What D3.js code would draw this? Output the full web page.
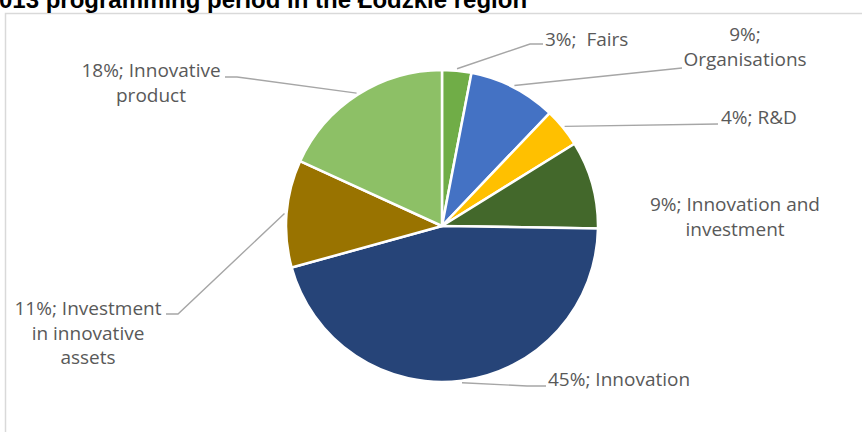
<!DOCTYPE html>
<html>
<head>
<meta charset="utf-8">
<script src="https://cdn.jsdelivr.net/npm/d3@7/dist/d3.min.js"></script>
<style>
  html, body { margin: 0; padding: 0; background: #fff; }
  svg { display: block; }
  .lbl { font-family: "Open Sans", "DejaVu Sans", sans-serif; font-size: 19px; fill: #595959; white-space: pre; }
  .title { font-family: "Liberation Sans", Arial, sans-serif; font-weight: bold; font-size: 24px; fill: #000; }
</style>
</head>
<body>
<svg id="chart" width="862" height="432"></svg>
<script>
// Share of projects by support type (percent), clockwise from 12 o'clock
const categories = ["Fairs", "Organisations", "R&D", "Innovation and investment", "Innovation", "Investment in innovative assets", "Innovative product"];
const shares = [3, 9, 4, 9, 45, 11, 18];
const colors = ["#70AD47", "#4472C4", "#FFC000", "#43682B", "#264478", "#997300", "#8DC066"];
const titleText = "013 programming period in the Łódzkie region";

// Label placement: anchor, first baseline, words per line, leader waypoints (label side)
const labelLayout = [
  { anchor: "start",  x: 545, y: 46,  sep: ";  ", lines: null,    leader: [[530, 44], [543, 44]] },
  { anchor: "middle", x: 745, y: 41,  sep: "; ",  lines: [1, 1],  leader: [[682, 68]] },
  { anchor: "start",  x: 721, y: 124, sep: "; ",  lines: null,    leader: [[718, 124]] },
  { anchor: "middle", x: 735, y: 211, sep: "; ",  lines: [3, 1],  leader: null },
  { anchor: "start",  x: 548, y: 386, sep: "; ",  lines: null,    leader: [[527, 386], [546, 386]] },
  { anchor: "middle", x: 88,  y: 315, sep: "; ",  lines: [2, 2, 1], leader: [[178, 314], [166, 314]] },
  { anchor: "middle", x: 151, y: 77,  sep: "; ",  lines: [2, 1],  leader: [[237, 77], [225, 77]] }
];

const svg = d3.select("#chart");
const cx = 442, cy = 226, radius = 156, lineGap = 24.5;

// chart area frame
svg.append("rect")
  .attr("x", 5.5).attr("y", 13.5)
  .attr("width", 900).attr("height", 500)
  .attr("fill", "none").attr("stroke", "#D9D9D9").attr("stroke-width", 1.5);

// caption above the frame
svg.append("text").attr("class", "title")
  .attr("x", -1).attr("y", 7.5)
  .text(titleText);

const data = categories.map((name, i) => ({ name, value: shares[i], color: colors[i], layout: labelLayout[i] }));

const pie = d3.pie().sort(null).value(d => d.value).startAngle(0).endAngle(2 * Math.PI);
const arcs = pie(data);
const arc = d3.arc().innerRadius(0).outerRadius(radius);

const g = svg.append("g").attr("transform", `translate(${cx},${cy})`);
g.selectAll("path.slice")
  .data(arcs)
  .join("path")
  .attr("class", "slice")
  .attr("d", arc)
  .attr("fill", d => d.data.color)
  .attr("stroke", "#fff")
  .attr("stroke-width", 2.5)
  .attr("stroke-linejoin", "round");

// leader lines: from slice edge at mid-angle to the label
const edgeArc = d3.arc().innerRadius(radius + 2).outerRadius(radius + 2);
const lineGen = d3.line();
svg.append("g").selectAll("path.leader")
  .data(arcs.filter(d => d.data.layout.leader))
  .join("path")
  .attr("class", "leader")
  .attr("d", d => {
    const [px, py] = edgeArc.centroid(d);
    return lineGen([[cx + px, cy + py], ...d.data.layout.leader]);
  })
  .attr("fill", "none")
  .attr("stroke", "#A6A6A6")
  .attr("stroke-width", 1.4);

// data labels "value%; category"
const labels = svg.append("g");
arcs.forEach(d => {
  const L = d.data.layout;
  const full = `${d.data.value}%${L.sep}${d.data.name}`;
  let rows;
  if (!L.lines) {
    rows = [full];
  } else {
    const words = full.split(" ");
    rows = [];
    let k = 0;
    L.lines.forEach(n => { rows.push(words.slice(k, k + n).join(" ")); k += n; });
  }
  const t = labels.append("text").attr("class", "lbl")
    .attr("text-anchor", L.anchor)
    .attr("x", L.x).attr("y", L.y);
  rows.forEach((r, i) => {
    t.append("tspan").attr("x", L.x).attr("y", L.y + i * lineGap).text(r);
  });
});
</script>
</body>
</html>
